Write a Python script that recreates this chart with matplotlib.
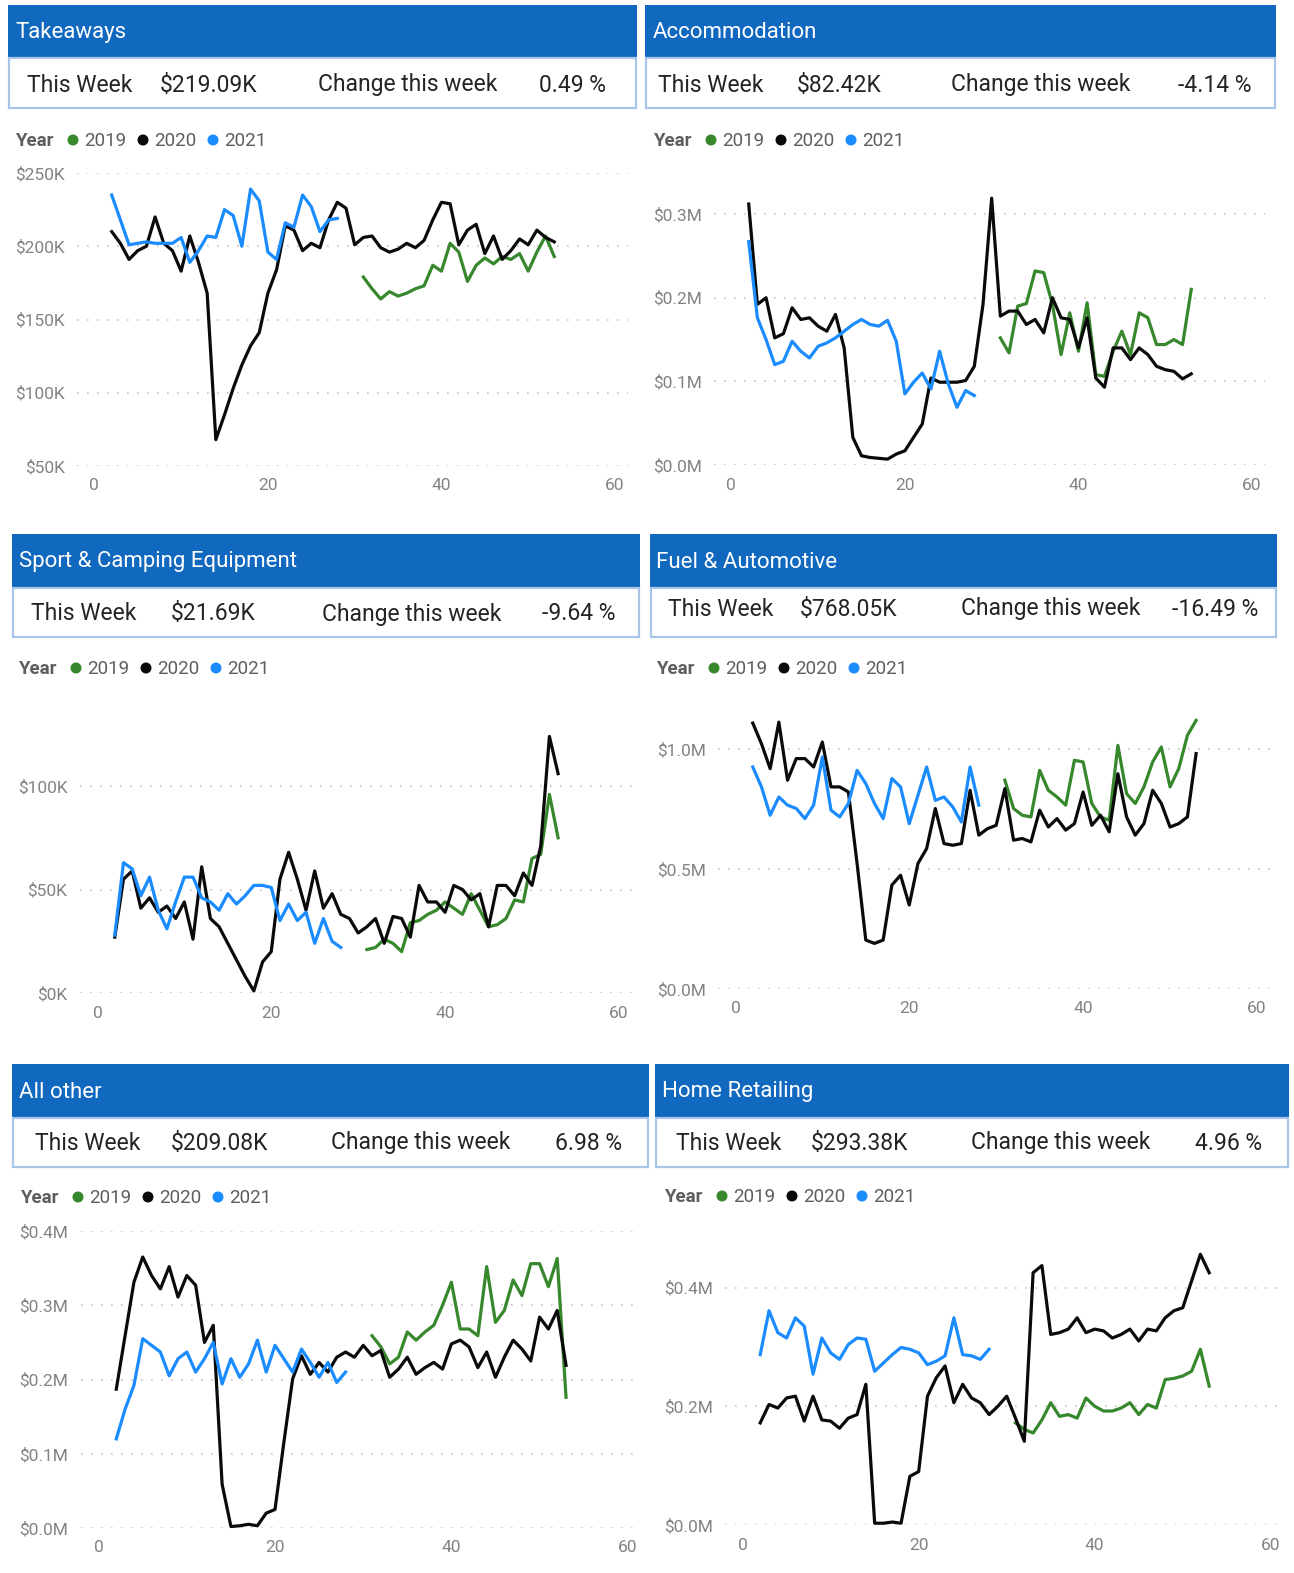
import matplotlib
matplotlib.use("Agg")
import matplotlib.pyplot as plt
from matplotlib.patches import Rectangle, Circle
from matplotlib.ticker import FixedLocator, FuncFormatter

plt.rcParams['font.family'] = ['Roboto', 'DejaVu Sans']

W, H = 1294, 1573

# week numbers (categories)
weeks_2019 = list(range(31, 54))
weeks_2020 = list(range(2, 54))
weeks_2021 = list(range(2, 29))

# values in $K
takeaways_2019 = [179, 171, 164, 169, 166, 168, 171, 173, 187, 183, 202, 196, 176, 187, 192, 188, 193, 191, 195, 183, 196, 207, 193]
takeaways_2020 = [210, 202, 191, 197, 200, 220, 202, 197, 183, 207, 189, 168, 68, 85, 103, 119, 132, 141, 168, 184,
                  214, 211, 197, 202, 199, 218, 230, 226, 201, 206, 207, 199, 196, 198, 202, 199, 204, 218, 230, 229,
                  201, 211, 215, 195, 207, 191, 197, 205, 201, 211, 206, 203]
takeaways_2021 = [235, 218, 201, 202, 203, 202, 202, 202, 206, 189, 197, 207, 206, 225, 221, 200, 239, 231, 196, 191,
                  216, 213, 235, 227, 210, 218, 219]

accom_2019 = [152, 134, 190, 193, 232, 230, 192, 132, 182, 136, 194, 108, 106, 136, 160, 132, 182, 176, 144, 144, 150, 144, 210]
accom_2020 = [312, 192, 200, 152, 157, 188, 174, 176, 166, 160, 180, 140, 33, 11, 9, 8, 7, 13, 17, 33,
              49, 104, 99, 99, 99, 101, 118, 192, 319, 178, 184, 184, 168, 174, 158, 200, 176, 174, 140, 176,
              104, 93, 140, 140, 126, 140, 132, 118, 114, 112, 103, 109]
accom_2021 = [267, 176, 150, 120, 124, 148, 136, 128, 142, 146, 152, 160, 168, 174, 168, 166, 173, 148, 85, 99,
              110, 91, 136, 97, 69, 89, 83]

sport_2019 = [21, 22, 26, 24, 20, 34, 35, 38, 40, 44, 41, 38, 48, 40, 32, 33, 36, 45, 44, 65, 67, 96, 75]
sport_2020 = [27, 55, 59, 41, 46, 39, 42, 36, 44, 26, 61, 36, 32, 24, 16, 8, 1, 15, 20, 55,
              68, 55, 40, 59, 41, 48, 38, 36, 29, 32, 36, 24, 37, 36, 27, 52, 44, 44, 39, 52,
              50, 45, 48, 32, 52, 52, 47, 58, 52, 71, 124, 106]
sport_2021 = [28, 63, 60, 47, 56, 40, 31, 44, 56, 56, 46, 44, 40, 48, 43, 47, 52, 52, 51, 35,
              43, 35, 39, 24, 36, 25, 22]

fuel_2019 = [870, 752, 724, 717, 911, 828, 800, 766, 953, 946, 773, 717, 703, 1015, 814, 773, 842, 946, 1008, 842, 918, 1057, 1119]
fuel_2020 = [1108, 1022, 918, 1112, 870, 960, 960, 925, 1029, 842, 842, 821, 523, 204, 190, 204, 433, 474, 350, 523,
             585, 752, 606, 599, 606, 828, 641, 668, 682, 835, 620, 627, 613, 745, 675, 710, 662, 689, 821, 682,
             724, 655, 897, 717, 641, 689, 828, 773, 675, 689, 717, 981]
fuel_2021 = [925, 842, 724, 800, 766, 752, 710, 766, 967, 745, 717, 773, 911, 856, 773, 710, 877, 842, 689, 807,
             925, 786, 800, 759, 696, 925, 766]

other_2019 = [259, 244, 221, 230, 264, 253, 264, 273, 300, 331, 268, 268, 259, 352, 277, 293, 334, 313, 356, 356, 325, 363, 176]
other_2020 = [187, 259, 331, 365, 340, 322, 352, 311, 340, 327, 250, 273, 59, 2, 3, 5, 3, 20, 25, 115,
              201, 232, 207, 223, 210, 230, 237, 230, 246, 232, 239, 203, 214, 230, 207, 216, 223, 214, 248, 253,
              244, 216, 237, 203, 230, 253, 241, 225, 284, 268, 293, 219]
other_2021 = [120, 160, 192, 255, 246, 237, 205, 228, 237, 210, 228, 250, 194, 228, 203, 221, 253, 210, 246, 228,
              210, 241, 223, 203, 223, 196, 210]

home_2019 = [172, 161, 155, 177, 206, 183, 186, 180, 214, 200, 192, 192, 197, 206, 186, 203, 197, 245, 247, 251, 259, 296, 234]
home_2020 = [172, 203, 197, 214, 217, 175, 217, 177, 175, 163, 180, 186, 237, 3, 3, 5, 3, 82, 90, 217,
             248, 268, 206, 237, 214, 206, 186, 200, 217, 180, 141, 425, 437, 321, 324, 330, 349, 324, 330, 327,
             315, 321, 330, 310, 330, 327, 349, 361, 366, 411, 456, 425]
home_2021 = [287, 361, 324, 315, 349, 335, 254, 315, 290, 279, 304, 315, 313, 259, 273, 287, 299, 296, 290, 270,
             276, 285, 349, 287, 285, 279, 296]

titles = ["Takeaways", "Accommodation", "Sport & Camping Equipment",
          "Fuel & Automotive", "All other", "Home Retailing"]
this_week = ["$219.09K", "$82.42K", "$21.69K", "$768.05K", "$209.08K", "$293.38K"]
change = ["0.49 %", "-4.14 %", "-9.64 %", "-16.49 %", "6.98 %", "4.96 %"]
year_labels = ["2019", "2020", "2021"]
x_ticks = [0, 20, 40, 60]

GREEN = "#37872d"
BLACK = "#0a0a0a"
BLUE = "#1a8cff"
HEADER = "#1068bf"
BORDER = "#a9c6e8"
TEXT = "#252423"
LEGEND = "#605e5c"
TICK = "#858381"

fig = plt.figure(figsize=(W / 100, H / 100), dpi=100)
bg = fig.add_axes([0, 0, 1, 1])
bg.set_xlim(0, W)
bg.set_ylim(H, 0)
bg.axis("off")


def fmt_k(v, pos):
    return "$%dK" % v


def fmt_m(v, pos):
    return "$%.1fM" % (v / 1000)


# layout in pixels: box x0, x1, header top, header bottom, box bottom,
# title x, info y, info xs, legend x, legend y,
# axes left, right, top, bottom, ylim, yticks, formatter
panels = [
    dict(x0=8, x1=637, t=5, hb=58, bb=108, tx=15, iy=83, ix=(27, 160, 318, 606), lx=15, ly=139,
         ax=(77, 628, 173, 466), ylim=(50, 250), yt=[50, 100, 150, 200, 250], fmt=fmt_k,
         data=(takeaways_2019, takeaways_2020, takeaways_2021)),
    dict(x0=645, x1=1276, t=5, hb=58, bb=108, tx=653, iy=83, ix=(658, 797, 951, 1251), lx=653, ly=139,
         ax=(714, 1265, 189, 465), ylim=(0, 330), yt=[0, 100, 200, 300], fmt=fmt_m,
         data=(accom_2019, accom_2020, accom_2021)),
    dict(x0=12, x1=640, t=534, hb=588, bb=637, tx=19, iy=612, ix=(31, 171, 322, 615), lx=18, ly=667,
         ax=(80, 632, 724, 993), ylim=(0, 130), yt=[0, 50, 100], fmt=fmt_k,
         data=(sport_2019, sport_2020, sport_2021)),
    dict(x0=650, x1=1277, t=534, hb=588, bb=637, tx=656, iy=607, ix=(668, 800, 961, 1258), lx=656, ly=667,
         ax=(718, 1270, 713, 989), ylim=(0, 1150), yt=[0, 500, 1000], fmt=fmt_m,
         data=(fuel_2019, fuel_2020, fuel_2021)),
    dict(x0=12, x1=649, t=1064, hb=1118, bb=1167, tx=19, iy=1141, ix=(35, 171, 331, 622), lx=20, ly=1196,
         ax=(81, 641, 1231, 1528), ylim=(0, 400), yt=[0, 100, 200, 300, 400], fmt=fmt_m,
         data=(other_2019, other_2020, other_2021)),
    dict(x0=655, x1=1289, t=1064, hb=1118, bb=1167, tx=662, iy=1141, ix=(676, 811, 971, 1262), lx=664, ly=1195,
         ax=(725, 1284, 1246, 1525), ylim=(0, 470), yt=[0, 200, 400], fmt=fmt_m,
         data=(home_2019, home_2020, home_2021)),
]

for i, p in enumerate(panels):
    # header and info box
    bg.add_patch(Rectangle((p["x0"], p["t"]), p["x1"] - p["x0"], p["hb"] - p["t"],
                           facecolor=HEADER, edgecolor="none"))
    bg.add_patch(Rectangle((p["x0"] + 1, p["hb"]), p["x1"] - p["x0"] - 2, p["bb"] - p["hb"],
                           facecolor="white", edgecolor=BORDER, linewidth=1.6))
    bg.text(p["tx"], (p["t"] + p["hb"]) / 2 + 1, titles[i], color="white", fontsize=16,
            ha="left", va="center")
    ix = p["ix"]
    iy = p["iy"] + 2
    bg.text(ix[0], iy, "This Week", color=TEXT, fontsize=16.5, ha="left", va="center")
    bg.text(ix[1], iy, this_week[i], color=TEXT, fontsize=16.5, ha="left", va="center")
    bg.text(ix[2], iy, "Change this week", color=TEXT, fontsize=16.5, ha="left", va="center")
    bg.text(ix[3], iy, change[i], color=TEXT, fontsize=16.5, ha="right", va="center")

    # legend
    lx, ly = p["lx"], p["ly"] + 2
    bg.text(lx, ly, "Year", color=LEGEND, fontsize=13.5, fontweight="bold", ha="left", va="center")
    for k, col in enumerate([GREEN, BLACK, BLUE]):
        bg.add_patch(Circle((lx + 58 + 70 * k, ly - 1), 5.5, facecolor=col, edgecolor="none"))
        bg.text(lx + 69 + 70 * k, ly, year_labels[k], color=LEGEND, fontsize=13.5,
                ha="left", va="center")

    # chart
    left, right, top, bottom = p["ax"]
    ax = fig.add_axes([left / W, 1 - bottom / H, (right - left) / W, (bottom - top) / H])
    ax.patch.set_alpha(0)
    d19, d20, d21 = p["data"]
    ax.plot(weeks_2019, d19, color=GREEN, linewidth=2.3, solid_joinstyle="round", clip_on=False)
    ax.plot(weeks_2020, d20, color=BLACK, linewidth=2.3, solid_joinstyle="round", clip_on=False)
    ax.plot(weeks_2021, d21, color=BLUE, linewidth=2.3, solid_joinstyle="round", clip_on=False)
    ax.set_xlim(-2, 61.5)
    ax.set_ylim(*p["ylim"])
    ax.xaxis.set_major_locator(FixedLocator(x_ticks))
    ax.yaxis.set_major_locator(FixedLocator(p["yt"]))
    ax.yaxis.set_major_formatter(FuncFormatter(p["fmt"]))
    for s in ax.spines.values():
        s.set_visible(False)
    ax.tick_params(axis="both", length=0, colors=TICK, labelsize=12.5)
    ax.tick_params(axis="y", pad=9)
    ax.tick_params(axis="x", pad=9)
    ax.grid(axis="y", color="#c8c6c4", linestyle=(0, (1, 5)), linewidth=1.2)
    ax.set_axisbelow(True)

fig.savefig("out.png", dpi=100, facecolor="white")
